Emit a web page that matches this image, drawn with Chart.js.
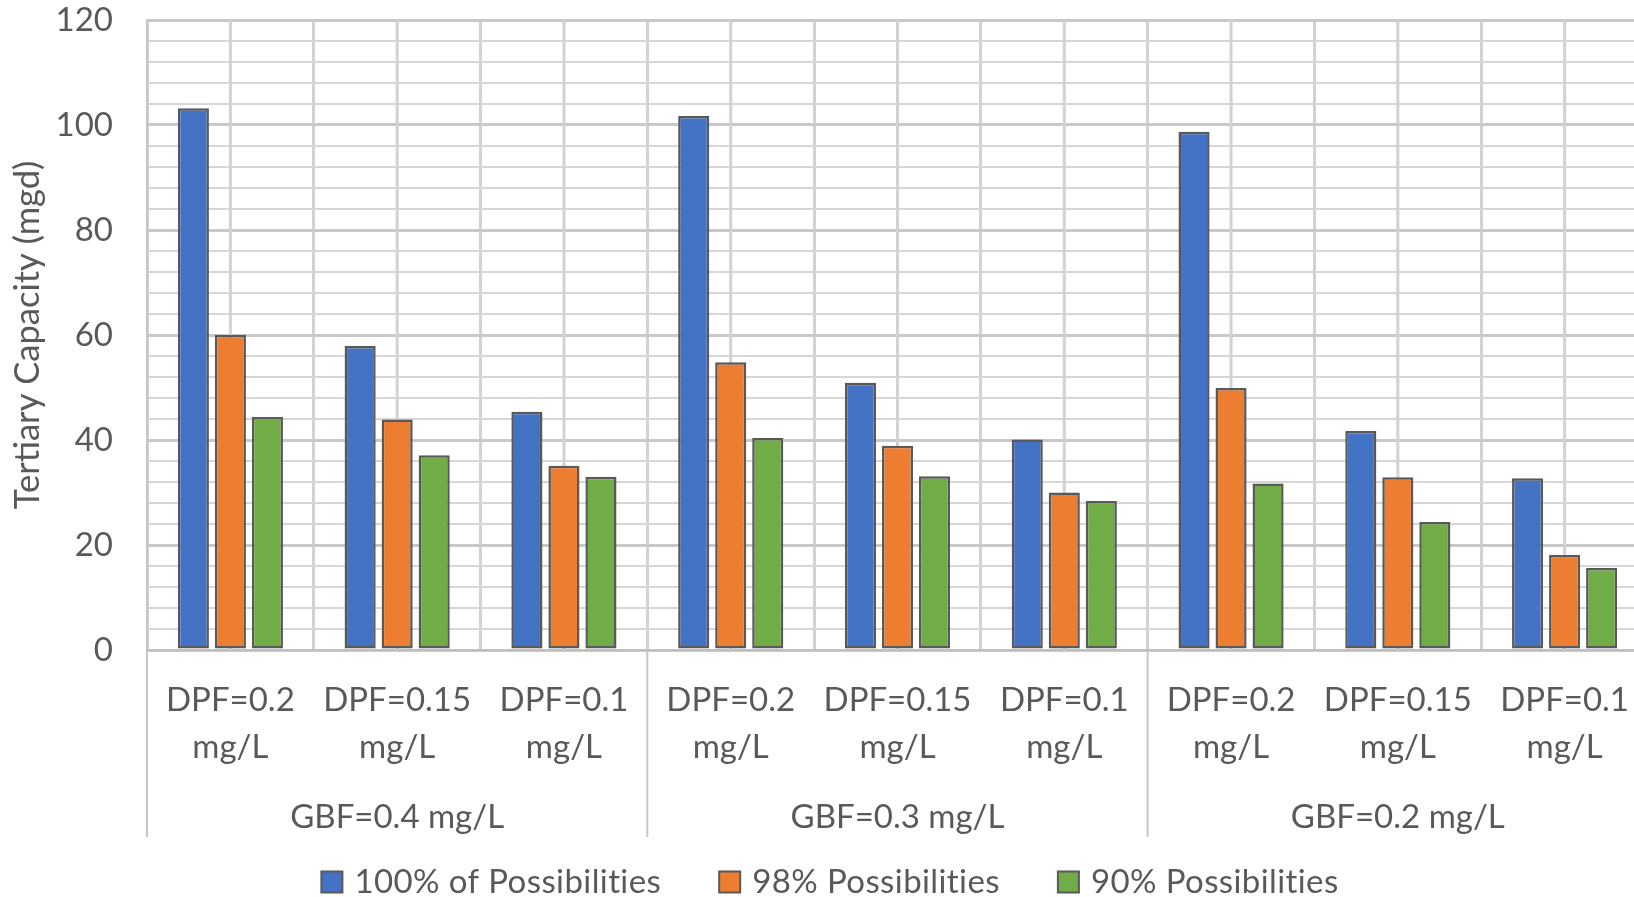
<!DOCTYPE html>
<html>
<head>
<meta charset="utf-8">
<title>Tertiary Capacity</title>
<script src="https://cdn.jsdelivr.net/npm/chart.js@4.4.1/dist/chart.umd.min.js"></script>
<style>
  html, body { margin: 0; padding: 0; background: #fff; overflow: hidden; }
  #wrap { width: 1660px; height: 897px; }
</style>
</head>
<body>
<div id="wrap"><canvas id="capChart" width="1660" height="897"></canvas></div>
<script>
// ─── Data ────────────────────────────────────────────────────────────────────

const groupLabels = ["GBF=0.4 mg/L", "GBF=0.3 mg/L", "GBF=0.2 mg/L"];
const dpfLabels   = [["DPF=0.2", "mg/L"], ["DPF=0.15", "mg/L"], ["DPF=0.1", "mg/L"]];
const categories  = [...dpfLabels, ...dpfLabels, ...dpfLabels];

const seriesNames = ["100% of Possibilities", "98% Possibilities", "90% Possibilities"];
const all100 = [103.2, 57.9, 45.4, 101.7, 50.9, 40.1, 98.7, 41.7, 32.7];
const all98  = [60.0, 43.9, 35.1, 54.8, 38.9, 30.0, 49.9, 32.9, 18.1];
const all90  = [44.4, 37.1, 33.0, 40.4, 33.1, 28.4, 31.7, 24.4, 15.6];

const yTitle = "Tertiary Capacity (mgd)";

// ─── Style ───────────────────────────────────────────────────────────────────

const TEXT   = "#595959";
const EDGE   = "#595959";
const FONT   = "Lato";
const FSIZE  = 33;
const colors = ["#4472C4", "#ED7D31", "#70AD47"];

// mid-category vertical lines (Excel draws minor gridlines at category centers)
const midLines = {
  id: "midLines",
  beforeDatasetsDraw(chart) {
    const { ctx, chartArea } = chart;
    const x = chart.scales.x;
    ctx.save();
    ctx.strokeStyle = "#d2d2d2";
    ctx.lineWidth = 3;
    for (let i = 0; i < categories.length; i++) {
      const px = x.getPixelForValue(i);
      ctx.beginPath();
      ctx.moveTo(px, chartArea.top);
      ctx.lineTo(px, chartArea.bottom);
      ctx.stroke();
    }
    ctx.restore();
  }
};

// second level of the category axis + separators
const groupAxis = {
  id: "groupAxis",
  afterDraw(chart) {
    const { ctx, chartArea } = chart;
    const x = chart.scales.x;
    const step = x.getPixelForValue(1) - x.getPixelForValue(0);
    ctx.save();
    ctx.strokeStyle = "#c6c6c6";
    ctx.lineWidth = 2;
    for (let g = 0; g <= groupLabels.length; g++) {
      const px = x.getPixelForValue(g * 3) - step / 2;
      ctx.beginPath();
      ctx.moveTo(px, chartArea.bottom);
      ctx.lineTo(px, 837);
      ctx.stroke();
    }
    ctx.fillStyle = TEXT;
    ctx.font = `${FSIZE}px ${FONT}`;
    ctx.textAlign = "center";
    ctx.textBaseline = "middle";
    groupLabels.forEach((lbl, g) => {
      const cx = (x.getPixelForValue(g * 3) + x.getPixelForValue(g * 3 + 2)) / 2;
      ctx.fillText(lbl, cx, 817);
    });
    ctx.restore();
  }
};

// legend drawn Excel-style (box + text), centered under the chart
const bottomLegend = {
  id: "bottomLegend",
  afterDraw(chart) {
    const { ctx } = chart;
    const box = 21, gap = 12, spacing = 58, y = 882;
    ctx.save();
    ctx.font = `${FSIZE}px ${FONT}`;
    ctx.letterSpacing = "0.4px";   // also keeps the "ti" ligature off
    const items = chart.data.datasets.map(ds => ({
      text: ds.label,
      color: ds.backgroundColor,
      w: box + gap + ctx.measureText(ds.label).width
    }));
    const total = items.reduce((a, it) => a + it.w, 0) + spacing * (items.length - 1);
    let cx = chart.width / 2 - total / 2;
    ctx.textBaseline = "middle";
    ctx.textAlign = "left";
    for (const it of items) {
      ctx.fillStyle = it.color;
      ctx.fillRect(cx, y - box / 2, box, box);
      ctx.strokeStyle = EDGE;
      ctx.lineWidth = 2;
      ctx.strokeRect(cx, y - box / 2, box, box);
      ctx.fillStyle = TEXT;
      ctx.fillText(it.text, cx + box + gap, y);
      cx += it.w + spacing;
    }
    ctx.restore();
  }
};

function buildChart() {
  Chart.defaults.font.family = FONT;
  Chart.defaults.font.size = FSIZE;
  Chart.defaults.color = TEXT;

  const seriesData = [all100, all98, all90];

  new Chart(document.getElementById("capChart"), {
    type: "bar",
    data: {
      labels: categories,
      datasets: seriesNames.map((name, i) => ({
        label: name,
        data: seriesData[i],
        backgroundColor: colors[i],
        borderColor: EDGE,
        borderWidth: 2.5,
        borderSkipped: false,
        categoryPercentage: 0.666,
        barPercentage: 0.84
      }))
    },
    options: {
      responsive: false,
      animation: false,
      layout: { padding: { left: 0, top: 0, right: 12, bottom: 57 } },
      plugins: {
        legend: { display: false },
        tooltip: { enabled: false }
      },
      scales: {
        x: {
          grid: { offset: true, color: "#d2d2d2", lineWidth: 3, drawTicks: false },
          border: { display: true, color: "#bfbfbf", width: 2 },
          ticks: {
            padding: 27,
            maxRotation: 0,
            autoSkip: false,
            font: { size: FSIZE, lineHeight: 47 / FSIZE }
          },
          afterFit(scale) { scale.height = 190; }
        },
        y: {
          min: 0,
          max: 120,
          grid: {
            drawTicks: false,
            color: ctx => (ctx.tick && ctx.tick.value % 20 === 0) ? "#c9c9c9" : "#d6d6d6",
            lineWidth: ctx => (ctx.tick && ctx.tick.value % 20 === 0) ? 3 : 2
          },
          border: { display: true, color: "#c6c6c6", width: 2 },
          ticks: {
            stepSize: 4,
            autoSkip: false,
            padding: 34,
            callback: v => (v % 20 === 0 ? String(v) : "")
          },
          title: {
            display: true,
            text: yTitle,
            padding: { top: 7, bottom: 0 },
            font: { size: 34.5 }
          },
          afterFit(scale) {
            scale.width = 147;
            // label padding would otherwise push the plot top down
            scale.paddingTop = 20;
            scale.paddingBottom = 0;
          }
        }
      }
    },
    plugins: [midLines, groupAxis, bottomLegend]
  });
}

document.addEventListener("DOMContentLoaded", () => {
  if (document.fonts && document.fonts.load) {
    document.fonts.load(`${FSIZE}px ${FONT}`).then(buildChart, buildChart);
  } else {
    buildChart();
  }
});
</script>
</body>
</html>
